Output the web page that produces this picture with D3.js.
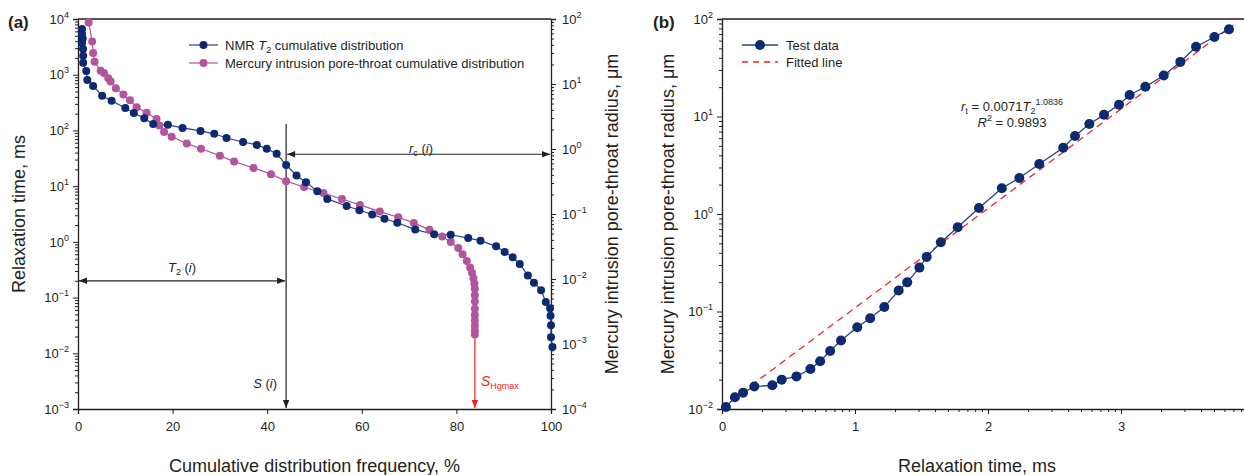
<!DOCTYPE html>
<html>
<head>
<meta charset="utf-8">
<script src="https://cdn.jsdelivr.net/npm/d3@7"></script>
<style>
  body { margin: 0; background: #fff; }
  svg { display: block; font-family: "Liberation Sans", Arial, sans-serif; }
  .axis path, .axis line { stroke: #231f20; }
  .axis text { fill: #231f20; }
</style>
</head>
<body>
<svg id="svgx" width="1244" height="475"></svg>
<script>
// ---------------- data (a): NMR T2 cumulative, [cumulative %, T2 ms]
const nmrPct = [0.85, 0.85, 1.0, 0.85, 1.06, 1.1, 1.1, 1.75, 1.97, 3.2, 5.1, 7.1, 10.0, 11.8, 14.0, 15.9, 19.0, 22.1, 25.9, 28.8,
  31.4, 34.9, 37.8, 39.9, 42.0, 44.0, 46.2, 48.2, 50.6, 52.7, 56.8, 59.5, 62.2, 64.8, 67.5, 71.3, 75.3, 78.8, 82.5, 85.1,
  88.4, 90.2, 91.9, 93.4, 95.1, 96.4, 97.9, 98.9, 99.8, 99.9, 100.0, 100.0, 100.3];
const nmrT2 = [6600, 5400, 4400, 3700, 2900, 2200, 1640, 1170, 800, 630, 420, 340, 253, 205, 166, 131, 126, 111, 98, 87,
  73, 62, 55, 47, 38, 24, 15.5, 11.8, 8.1, 5.9, 4.4, 3.7, 3.1, 2.6, 2.2, 1.66, 1.37, 1.34, 1.17, 1.05,
  0.83, 0.66, 0.53, 0.40, 0.25, 0.185, 0.136, 0.083, 0.064, 0.047, 0.032, 0.0195, 0.0129];

// ---------------- data (a): mercury intrusion, [cumulative %, radius um]
const hgPct = [2.26, 3.0, 3.2, 3.5, 4.8, 5.5, 6.4, 6.9, 8.0, 9.6, 11.0, 12.4, 14.5, 16.6, 17.2, 18.2, 19.8, 23.0, 26.0, 30.0,
  33.0, 37.1, 40.8, 44.0, 47.8, 51.9, 55.8, 59.6, 63.8, 67.7, 71.0, 74.3, 77.0, 78.8, 80.4, 81.3, 82.2, 82.9, 83.3, 83.6,
  83.8, 83.9, 83.9, 83.9, 83.9, 83.9, 83.9, 83.9, 83.9, 83.9];
const hgRadius = [88, 45, 30, 22, 16, 14.7, 12.3, 10.9, 8.6, 6.9, 5.6, 4.4, 3.6, 2.9, 2.3, 1.83, 1.54, 1.22, 1.01, 0.79,
  0.64, 0.51, 0.41, 0.32, 0.26, 0.21, 0.17, 0.138, 0.109, 0.089, 0.073, 0.057, 0.045, 0.037, 0.030, 0.024, 0.019, 0.015, 0.0125, 0.0103,
  0.0085, 0.0071, 0.0056, 0.0045, 0.0035, 0.0028, 0.0023, 0.0019, 0.0016, 0.0014];

const sMark = 44.0;      // S(i)
const sHgMax = 83.9;     // S_Hgmax
const t2Mark = 0.2;      // level of T2(i) arrow, ms
const rcMark = 0.83;     // level of rc(i) arrow, um

// ---------------- data (b): test data, [T2 ms, radius um]
const testT2 = [1.07, 1.25, 1.44, 1.75, 2.39, 2.81, 3.63, 4.62, 5.47, 6.50, 7.85, 10.4, 13.0, 16.6, 21.3, 24.7, 30.5, 34.6,
  44.2, 59.2, 85.5, 127, 172, 243, 368, 451, 578, 745, 966, 1161, 1524, 2094, 2793, 3664, 5035, 6486];
const testR = [0.0105, 0.0132, 0.0147, 0.0170, 0.0175, 0.0200, 0.0216, 0.0257, 0.0309, 0.0394, 0.0505, 0.0689, 0.0851, 0.111,
  0.164, 0.199, 0.282, 0.363, 0.513, 0.730, 1.15, 1.84, 2.34, 3.26, 4.79, 6.31, 8.38, 10.4, 13.2, 16.6, 20.2, 26.3, 36.3, 52.0, 65.3, 78.3];
const fitT2 = [1.0, 7000];
const fitR = [0.0104, 87];

const navy = "#0b2a6f", navyLine = "#27408f", pink = "#b3549c", red = "#ee2424", ink = "#231f20";
const fontsize = 13;

const svg = d3.select("#svgx");
svg.append("defs").html(`
  <marker id="ah" viewBox="0 0 10 10" refX="10" refY="5" markerWidth="10" markerHeight="8" markerUnits="userSpaceOnUse" orient="auto-start-reverse">
    <path d="M0,1 L10,5 L0,9 Z" fill="${ink}"/></marker>
  <marker id="ahr" viewBox="0 0 10 10" refX="10" refY="5" markerWidth="10" markerHeight="8" markerUnits="userSpaceOnUse" orient="auto-start-reverse">
    <path d="M0,1 L10,5 L0,9 Z" fill="${red}"/></marker>`);

const sup = { "-": "\u2212" };
function powLabels(g, fmt) {
  g.selectAll(".tick text").each(function (d) {
    const t = d3.select(this).text("");
    const e = Math.round(Math.log10(d));
    t.append("tspan").text("10");
    t.append("tspan").attr("dy", -6).style("font-size", "9px").text(String(e).replace("-", sup["-"]));
  });
}
function minors(domain) {
  const out = [];
  for (let e = Math.floor(Math.log10(domain[0])); e <= Math.ceil(Math.log10(domain[1])); e++)
    for (let k = 2; k <= 9; k++) { const v = k * Math.pow(10, e); if (v > domain[0] && v < domain[1]) out.push(v); }
  return out;
}
function majors(domain) {
  const out = [];
  for (let e = Math.ceil(Math.log10(domain[0]) - 1e-9); e <= Math.floor(Math.log10(domain[1]) + 1e-9); e++) out.push(Math.pow(10, e));
  return out;
}
function styleAxis(g) {
  g.attr("class", "axis");
  g.selectAll("text").style("font-size", fontsize + "px").style("font-family", "Liberation Sans, Arial");
  g.select(".domain").attr("stroke-width", 1.3);
  g.selectAll("line").attr("stroke-width", 1);
}

// ================= panel (a)
const A = { left: 78, right: 551, top: 19, bottom: 409 };
const xA = d3.scaleLinear().domain([0, 100]).range([A.left, A.right]);
const yL = d3.scaleLog().domain([1e-3, 1e4]).range([A.bottom, A.top]);
const yR = d3.scaleLog().domain([1e-4, 1e2]).range([A.bottom, A.top]);

const gA = svg.append("g");
gA.append("line").attr("x1", A.left).attr("x2", A.right).attr("y1", A.top).attr("y2", A.top).attr("stroke", ink).attr("stroke-width", 1.3);

gA.append("g").attr("transform", `translate(0,${A.bottom})`)
  .call(d3.axisBottom(xA).tickValues([0, 20, 40, 60, 80, 100]).tickSize(5).tickPadding(8).tickFormat(d3.format("d")))
  .call(styleAxis);

gA.append("g").attr("transform", `translate(${A.left},0)`)
  .call(d3.axisLeft(yL).tickValues(minors(yL.domain())).tickSize(3).tickFormat(""))
  .call(styleAxis).select(".domain").remove();
gA.append("g").attr("transform", `translate(${A.left},0)`)
  .call(d3.axisLeft(yL).tickValues(majors(yL.domain())).tickSize(5).tickPadding(4))
  .call(styleAxis).call(powLabels);

gA.append("g").attr("transform", `translate(${A.right},0)`)
  .call(d3.axisRight(yR).tickValues(minors(yR.domain())).tickSize(3).tickFormat(""))
  .call(styleAxis).select(".domain").remove();
gA.append("g").attr("transform", `translate(${A.right},0)`)
  .call(d3.axisRight(yR).tickValues(majors(yR.domain())).tickSize(5).tickPadding(6))
  .call(styleAxis).call(powLabels);

// annotations (a)
gA.append("line").attr("x1", xA(sMark)).attr("x2", xA(sMark)).attr("y1", yL(130)).attr("y2", A.bottom - 1)
  .attr("stroke", ink).attr("stroke-width", 1.2).attr("marker-end", "url(#ah)");
gA.append("line").attr("x1", A.left + 1).attr("x2", xA(sMark) - 1).attr("y1", yL(t2Mark)).attr("y2", yL(t2Mark))
  .attr("stroke", ink).attr("stroke-width", 1.2).attr("marker-start", "url(#ah)").attr("marker-end", "url(#ah)");
gA.append("line").attr("x1", xA(sMark) + 1).attr("x2", A.right - 1).attr("y1", yR(rcMark)).attr("y2", yR(rcMark))
  .attr("stroke", ink).attr("stroke-width", 1.2).attr("marker-start", "url(#ah)").attr("marker-end", "url(#ah)");
gA.append("line").attr("x1", xA(sHgMax)).attr("x2", xA(sHgMax)).attr("y1", yR(0.0014)).attr("y2", A.bottom - 1)
  .attr("stroke", red).attr("stroke-width", 1.2).attr("marker-end", "url(#ahr)");

function richText(g, x, y, parts, opts = {}) {
  const t = g.append("text").attr("x", x).attr("y", y).attr("fill", opts.fill || ink)
    .style("font-size", (opts.size || 13) + "px").attr("text-anchor", opts.anchor || "start");
  parts.forEach(p => {
    const s = t.append("tspan").text(p.t);
    if (p.i) s.style("font-style", "italic");
    if (p.sub) s.style("font-size", "9px").attr("dy", 3);
    if (p.sup) s.style("font-size", "9px").attr("dy", -6);
    if (p.back) s.attr("dy", p.back);
  });
  return t;
}
richText(gA, 182, 272, [{ t: "T", i: 1 }, { t: "2", sub: 1 }, { t: " (", back: -3 }, { t: "i", i: 1 }, { t: ")" }], { anchor: "middle" });
richText(gA, 421, 153, [{ t: "r", i: 1 }, { t: "c", sub: 1 }, { t: " (", back: -3 }, { t: "i", i: 1 }, { t: ")" }], { anchor: "middle" });
richText(gA, 277, 388, [{ t: "S", i: 1 }, { t: " (" }, { t: "i", i: 1 }, { t: ")" }], { anchor: "end" });
richText(gA, 481, 386, [{ t: "S", i: 1, }, { t: "Hgmax", sub: 1 }], { fill: red, size: 14 });

// series (a)
const nmr = nmrPct.map((p, i) => ({ x: p, y: nmrT2[i] }));
const hg = hgPct.map((p, i) => ({ x: p, y: hgRadius[i] }));
gA.append("path").datum(hg).attr("fill", "none").attr("stroke", pink).attr("stroke-width", 1.2)
  .attr("d", d3.line().x(d => xA(d.x)).y(d => yR(d.y)));
gA.append("path").datum(nmr).attr("fill", "none").attr("stroke", navyLine).attr("stroke-width", 1.2)
  .attr("d", d3.line().x(d => xA(d.x)).y(d => yL(d.y)));
gA.selectAll(".hgpt").data(hg).enter().append("circle").attr("class", "hgpt")
  .attr("cx", d => xA(d.x)).attr("cy", d => yR(d.y)).attr("r", 4).attr("fill", pink);
gA.selectAll(".nmrpt").data(nmr).enter().append("circle").attr("class", "nmrpt")
  .attr("cx", d => xA(d.x)).attr("cy", d => yL(d.y)).attr("r", 4).attr("fill", navy);

// legend (a)
const legA = [{ c: navy, l: navyLine, parts: [{ t: "NMR " }, { t: "T", i: 1 }, { t: "2", sub: 1 }, { t: " cumulative distribution", back: -3 }] },
  { c: pink, l: pink, parts: [{ t: "Mercury intrusion pore-throat cumulative distribution" }] }];
legA.forEach((d, i) => {
  const y = 45 + i * 18;
  gA.append("line").attr("x1", 189).attr("x2", 218).attr("y1", y).attr("y2", y).attr("stroke", d.l).attr("stroke-width", 1.2);
  gA.append("circle").attr("cx", 203.5).attr("cy", y).attr("r", 4).attr("fill", d.c);
  richText(gA, 225, y + 4.5, d.parts);
});

// titles (a)
svg.append("text").attr("x", 8).attr("y", 28).text("(a)").style("font-weight", 700).style("font-size", "17px").attr("fill", ink);
svg.append("text").attr("transform", `translate(25,${(A.top + A.bottom) / 2}) rotate(-90)`).attr("text-anchor", "middle")
  .style("font-size", "18px").attr("fill", ink).text("Relaxation time, ms");
svg.append("text").attr("transform", `translate(618,${(A.top + A.bottom) / 2}) rotate(-90)`).attr("text-anchor", "middle")
  .style("font-size", "18px").attr("fill", ink).text("Mercury intrusion pore-throat radius, \u03bcm");
svg.append("text").attr("x", (A.left + A.right) / 2).attr("y", 472).attr("text-anchor", "middle")
  .style("font-size", "18px").attr("fill", ink).text("Cumulative distribution frequency, %");

// ================= panel (b)
const B = { left: 722, top: 19, bottom: 409, decade: 133 };
const xB = d3.scaleLog().domain([1, Math.pow(10, 3.97)]).range([B.left, B.left + 3.97 * B.decade]);
const yB = d3.scaleLog().domain([1e-2, 1e2]).range([B.bottom, B.top]);
const gB = svg.append("g");
gB.append("line").attr("x1", B.left).attr("x2", 1244).attr("y1", B.top).attr("y2", B.top).attr("stroke", ink).attr("stroke-width", 1.3);

gB.append("g").attr("transform", `translate(0,${B.bottom})`)
  .call(d3.axisBottom(xB).tickValues(minors(xB.domain())).tickSize(3).tickFormat(""))
  .call(styleAxis).select(".domain").remove();
gB.append("g").attr("transform", `translate(0,${B.bottom})`)
  .call(d3.axisBottom(xB).tickValues(majors(xB.domain())).tickSize(5).tickPadding(8).tickFormat(d => Math.round(Math.log10(d))))
  .call(styleAxis);
gB.append("g").attr("transform", `translate(${B.left},0)`)
  .call(d3.axisLeft(yB).tickValues(minors(yB.domain())).tickSize(3).tickFormat(""))
  .call(styleAxis).select(".domain").remove();
gB.append("g").attr("transform", `translate(${B.left},0)`)
  .call(d3.axisLeft(yB).tickValues(majors(yB.domain())).tickSize(5).tickPadding(4))
  .call(styleAxis).call(powLabels);

const fit = fitT2.map((t, i) => ({ x: t, y: fitR[i] }));
const test = testT2.map((t, i) => ({ x: t, y: testR[i] }));
gB.append("path").datum(fit).attr("fill", "none").attr("stroke", red).attr("stroke-width", 1.3).attr("stroke-dasharray", "7,5")
  .attr("d", d3.line().x(d => xB(d.x)).y(d => yB(d.y)));
gB.append("path").datum(test).attr("fill", "none").attr("stroke", navyLine).attr("stroke-width", 1.3)
  .attr("d", d3.line().x(d => xB(d.x)).y(d => yB(d.y)));
gB.selectAll(".tpt").data(test).enter().append("circle").attr("class", "tpt")
  .attr("cx", d => xB(d.x)).attr("cy", d => yB(d.y)).attr("r", 5).attr("fill", navy);

// legend (b)
gB.append("line").attr("x1", 742).attr("x2", 778).attr("y1", 45).attr("y2", 45).attr("stroke", navyLine).attr("stroke-width", 1.3);
gB.append("circle").attr("cx", 760).attr("cy", 45).attr("r", 5).attr("fill", navy);
richText(gB, 786, 50, [{ t: "Test data" }]);
gB.append("line").attr("x1", 742).attr("x2", 778).attr("y1", 62).attr("y2", 62).attr("stroke", red).attr("stroke-width", 1.3).attr("stroke-dasharray", "6,5");
richText(gB, 786, 67, [{ t: "Fitted line" }]);

// equation
richText(gB, 1012, 111, [{ t: "r", i: 1 }, { t: "t", sub: 1 }, { t: " = 0.0071", back: -3 }, { t: "T", i: 1 }, { t: "2", sub: 1 }, { t: "1.0836", sup: 1, back: -9 }], { anchor: "middle" });
richText(gB, 1012, 127, [{ t: "R", i: 1 }, { t: "2", sup: 1 }, { t: " = 0.9893", back: 6 }], { anchor: "middle" });

svg.append("text").attr("x", 653).attr("y", 28).text("(b)").style("font-weight", 700).style("font-size", "17px").attr("fill", ink);
svg.append("text").attr("transform", `translate(674,${(B.top + B.bottom) / 2}) rotate(-90)`).attr("text-anchor", "middle")
  .style("font-size", "18px").attr("fill", ink).text("Mercury intrusion pore-throat radius, \u03bcm");
svg.append("text").attr("x", 977).attr("y", 472).attr("text-anchor", "middle")
  .style("font-size", "18px").attr("fill", ink).text("Relaxation time, ms");
</script>
</body>
</html>
